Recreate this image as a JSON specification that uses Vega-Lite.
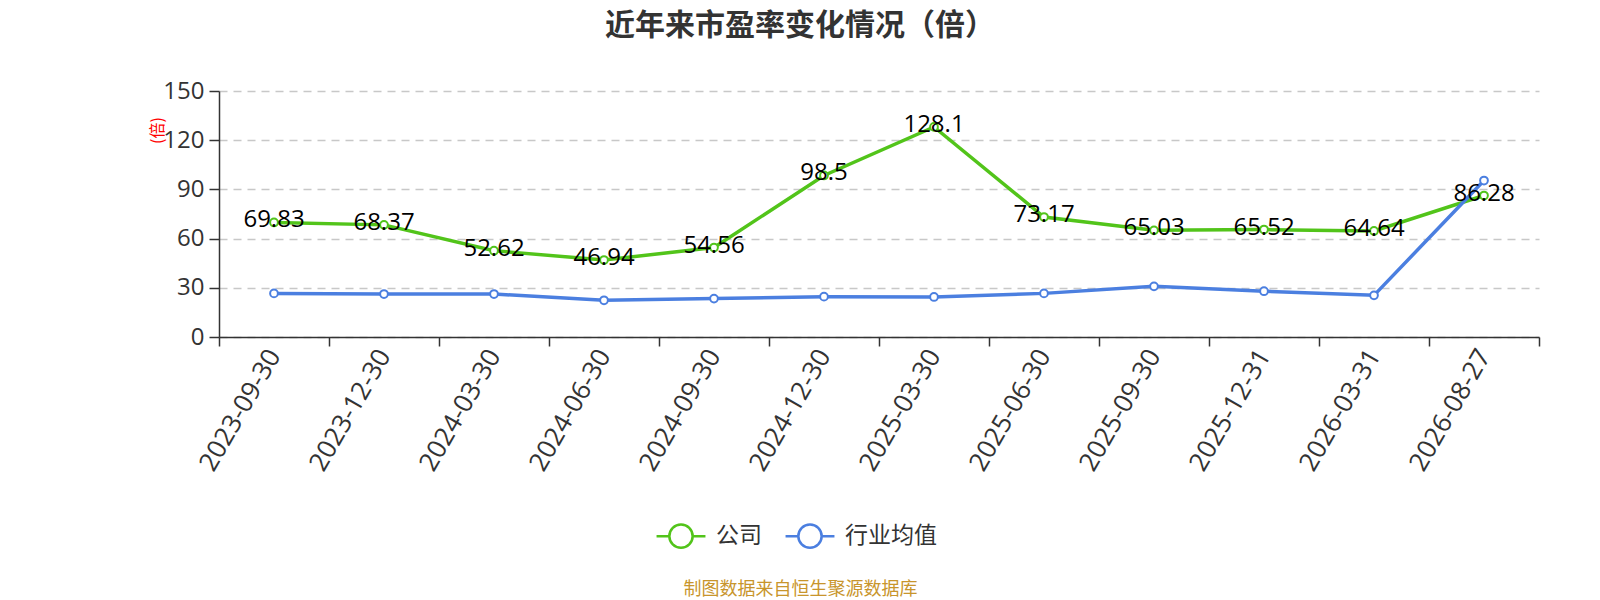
{
  "$schema": "https://vega.github.io/schema/vega-lite/v6.json",
  "width": 1320,
  "height": 246,
  "autosize": "none",
  "padding": {"left": 219, "top": 91, "right": 61, "bottom": 263},
  "background": "white",
  "config": {"view": {"stroke": null}},
  "title": {
    "text": "近年来市盈率变化情况（倍）",
    "anchor": "middle",
    "frame": "group",
    "dx": -79,
    "offset": 38,
    "fontSize": 30,
    "font": "Noto Sans CJK SC",
    "fontWeight": "bold",
    "color": "#333333"
  },
  "data": {
    "values": [
      {"date": "2023-09-30", "series": "公司", "pe": 69.83},
      {"date": "2023-12-30", "series": "公司", "pe": 68.37},
      {"date": "2024-03-30", "series": "公司", "pe": 52.62},
      {"date": "2024-06-30", "series": "公司", "pe": 46.94},
      {"date": "2024-09-30", "series": "公司", "pe": 54.56},
      {"date": "2024-12-30", "series": "公司", "pe": 98.5},
      {"date": "2025-03-30", "series": "公司", "pe": 128.1},
      {"date": "2025-06-30", "series": "公司", "pe": 73.17},
      {"date": "2025-09-30", "series": "公司", "pe": 65.03},
      {"date": "2025-12-31", "series": "公司", "pe": 65.52},
      {"date": "2026-03-31", "series": "公司", "pe": 64.64},
      {"date": "2026-08-27", "series": "公司", "pe": 86.28},
      {"date": "2023-09-30", "series": "行业均值", "pe": 26.6},
      {"date": "2023-12-30", "series": "行业均值", "pe": 26.2},
      {"date": "2024-03-30", "series": "行业均值", "pe": 26.2},
      {"date": "2024-06-30", "series": "行业均值", "pe": 22.4},
      {"date": "2024-09-30", "series": "行业均值", "pe": 23.4},
      {"date": "2024-12-30", "series": "行业均值", "pe": 24.6},
      {"date": "2025-03-30", "series": "行业均值", "pe": 24.4},
      {"date": "2025-06-30", "series": "行业均值", "pe": 26.6},
      {"date": "2025-09-30", "series": "行业均值", "pe": 30.9},
      {"date": "2025-12-31", "series": "行业均值", "pe": 27.9},
      {"date": "2026-03-31", "series": "行业均值", "pe": 25.4},
      {"date": "2026-08-27", "series": "行业均值", "pe": 95.4}
    ]
  },
  "encoding": {
    "x": {
      "field": "date",
      "type": "ordinal",
      "bandPosition": 0.5,
      "scale": {"type": "band", "paddingInner": 0, "paddingOuter": 0},
      "axis": {
        "title": "制图数据来自恒生聚源数据库",
        "titleColor": "#c8952c",
        "titleFont": "Noto Sans CJK SC",
        "titleFontSize": 18,
        "titleFontWeight": "normal",
        "titleX": 581,
        "titleY": 252,
        "titleAlign": "center",
        "titleBaseline": "middle",
        "labelAngle": -60,
        "labelAlign": "right",
        "labelBaseline": "middle",
        "labelFont": "Open Sans",
        "labelFontSize": 26,
        "labelColor": "#333333",
        "labelPadding": 5,
        "tickBand": "extent",
        "tickSize": 9,
        "tickColor": "#333333",
        "tickWidth": 1.5,
        "domainColor": "#333333",
        "domainWidth": 1.5,
        "grid": false
      }
    },
    "y": {
      "field": "pe",
      "type": "quantitative",
      "scale": {"domain": [0, 150], "nice": false},
      "axis": {
        "title": "(倍)",
        "titleColor": "red",
        "titleFont": "Noto Sans CJK SC",
        "titleFontSize": 16,
        "titleFontWeight": "normal",
        "titleX": -62,
        "titleY": 39,
        "titleAlign": "center",
        "titleBaseline": "middle",
        "values": [0, 30, 60, 90, 120, 150],
        "labelFont": "Open Sans",
        "labelFontSize": 24,
        "labelColor": "#333333",
        "labelPadding": 5,
        "tickSize": 10,
        "tickColor": "#333333",
        "tickWidth": 1.5,
        "domainColor": "#333333",
        "domainWidth": 1.5,
        "gridColor": "#c8c8c8",
        "gridDash": [8, 6],
        "gridWidth": 1.4
      }
    },
    "color": {
      "field": "series",
      "type": "nominal",
      "scale": {"domain": ["公司", "行业均值"], "range": ["#52c41a", "#4b7fe0"]},
      "legend": {
        "orient": "none",
        "legendX": 437,
        "legendY": 420,
        "direction": "horizontal",
        "title": null,
        "labelFont": "Noto Sans CJK SC",
        "labelFontSize": 23,
        "labelColor": "#333333",
        "symbolType": "M-1.05,0H-0.5M0.5,0H1.05M0.5,0A0.5,0.5 0 1 1 -0.5,0A0.5,0.5 0 1 1 0.5,0",
        "symbolSize": 2170,
        "symbolStrokeWidth": 2.5,
        "symbolFillColor": "white",
        "columnPadding": 18,
        "labelOffset": 10
      }
    }
  },
  "layer": [
    {
      "mark": {"type": "line", "strokeWidth": 3.5}
    },
    {
      "mark": {"type": "point", "filled": false, "fill": "white", "size": 60, "strokeWidth": 2, "opacity": 1}
    },
    {
      "transform": [{"filter": "datum.series === '公司'"}],
      "mark": {"type": "text", "font": "Open Sans", "fontSize": 24, "baseline": "middle", "dy": -2},
      "encoding": {
        "text": {"field": "pe", "type": "quantitative"},
        "color": {"value": "black"}
      }
    }
  ]
}
